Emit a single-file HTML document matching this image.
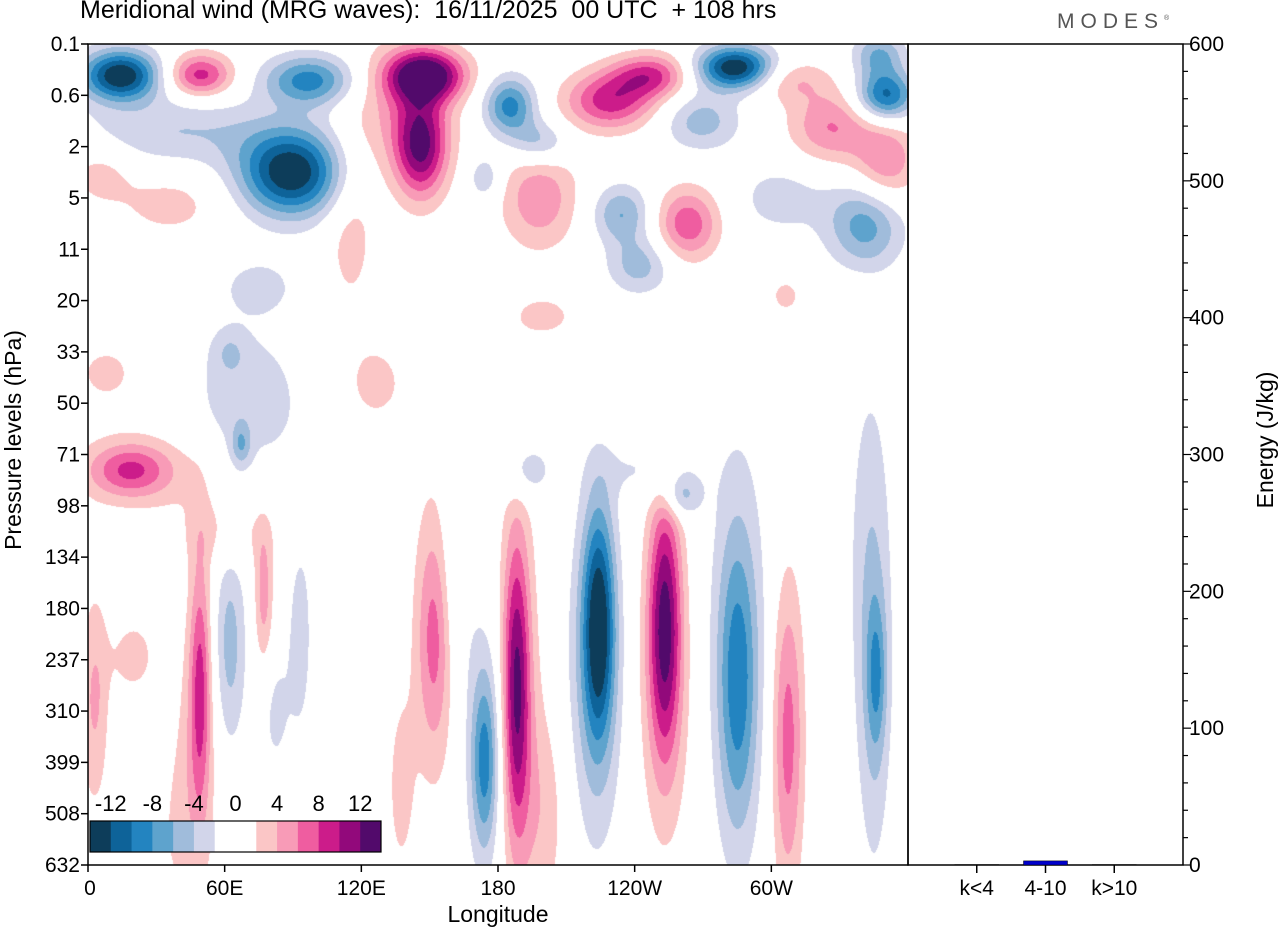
<!DOCTYPE html>
<html><head><meta charset="utf-8">
<style>
body{margin:0;width:1280px;height:930px;background:#fff;font-family:"Liberation Sans",sans-serif;overflow:hidden;position:relative}
.t{position:absolute;color:#000;white-space:nowrap}
</style></head>
<body>
<div class="t" style="left:80px;top:-4px;font-size:25px">Meridional wind (MRG waves):&nbsp; 16/11/2025&nbsp; 00 UTC&nbsp; + 108 hrs</div>
<div class="t" style="left:1057px;top:10px;font-size:21px;letter-spacing:6px;color:#555">MODES<sup style="font-size:7px;letter-spacing:0">®</sup></div>
<canvas id="field" width="820" height="821" style="position:absolute;left:88px;top:44px"></canvas>
<svg id="ax" width="1280" height="930" style="position:absolute;left:0;top:0" font-family="Liberation Sans, sans-serif"></svg>
<script>
// longitude (deg E, 0-360), level index (0=0.1hPa .. 16=632hPa), sigma lon, sigma level, amplitude (m/s)
const blobLon=[14,49,97,148,146,137,185,198,229,247,284,269,326,308,350,347,89,40,5,36,115,198,174,234,263,242,350,341,304,339,200,306,75,18,27,62,69,67,126,8,62,192,260,247,343,174,174,188,188,224,222,253,253,285,285,307,345,346,49,49,62,77,93,152,152,20,3,40,25,137,160,82,200];
const blobLvl=[0.6,0.6,0.7,0.6,2.0,1.3,1.2,1.9,1.1,0.6,0.45,1.5,1.6,0.7,1.0,0.2,2.5,1.7,2.5,3.1,3.6,3.0,2.6,3.3,3.5,4.3,2.3,3.5,3.0,5.2,5.3,4.9,4.7,8.3,8.3,9.5,7.0,7.8,6.6,6.4,6.0,8.3,8.8,8.3,10,14,13.5,12.5,12.5,11.3,12.5,11.3,12.5,12.5,11.5,13.5,13,12.3,12.5,12.5,11.7,10.8,11.5,11.5,11.5,12,12.8,14.5,13.5,14.5,10.5,13,15];
const blobSLon=[12,10,14,12,8,16,8,9,14,12,12,12,13,12,9,8,16,30,10,18,8,12,5,9,10,10,10,12,14,8,12,6,12,12,25,15,20,3,10,12,5,8,6,14,7,4,7,4,8,5,9,5,9,6,10,5,5,3,3,5,5,3,4,5,8,6,5,10,10,5,6,5,8];
const blobSLvl=[0.35,0.3,0.35,0.35,0.7,0.9,0.4,0.3,0.4,0.3,0.3,0.4,0.5,0.3,0.35,0.3,0.6,0.5,0.4,0.5,1.2,0.7,0.3,0.4,0.5,0.4,0.6,0.6,0.5,0.4,0.35,0.3,0.4,0.35,0.6,0.5,1.2,0.3,0.6,0.5,0.3,0.4,0.3,0.4,2.8,1.2,2.0,2.0,3.0,1.6,2.5,1.8,2.5,2.0,3.0,2.2,2.5,1,1.6,2.5,1.4,1,1.5,1.5,2.5,0.5,1.5,1.8,1.2,1.5,1.5,1,1.5];
const blobAmp=[-14,9,-9,14,11,4,-9,-5,9,8,-14,-5,6,4,-11,-6,-14,-4,3,2.8,3,5.5,-4,-6,7.5,-5,6,-7,-3,2.5,2.6,2.6,-2.5,6,3,2.5,-3.2,-4.5,2.8,2.5,-2.5,-4,-5,-2.5,-3,-7,-3,10,3,-12,-4,11,3,-7,-3,7,-3,-4.5,6,2.5,-5,5,-3,5,2.5,4.5,4.5,3,-2.5,2.5,-2.5,-2.5,3];
const levelLabels=["0.1","0.6","2","5","11","20","33","50","71","98","134","180","237","310","399","508","632"];
const lonTicks=[0,60,120,180,240,300];
const lonLabels=["0","60E","120E","180","120W","60W"];
const energyCats=["k<4","4-10","k>10"];
const energyVals=[0.3,3,0.3];
const energyTicks=[0,100,200,300,400,500,600];
const cbLabels=["-12","-8","-4","0","4","8","12"];
const colors=["#0d3d5a","#0e6399","#2384c0","#5ea3cd","#a0bcdb","#d2d5ea","#ffffff","#ffffff","#fbc6c6","#f89bb7","#ef5da0","#cc1c8a","#92097b","#520a6b"];

const X0=88,X1=908,Y0=44,Y1=865,E1=1183;
const xLon=l=>X0+l*(X1-X0)/360;
const yLvl=i=>Y0+i*(Y1-Y0)/16;
const yE=v=>Y1-v*(Y1-Y0)/600;
function hex(c){return [parseInt(c.slice(1,3),16),parseInt(c.slice(3,5),16),parseInt(c.slice(5,7),16)];}
const rgb=colors.map(hex);

const cv=document.getElementById('field'),ctx=cv.getContext('2d');
const W=cv.width,H=cv.height,img=ctx.createImageData(W,H);
const f=new Float32Array(W*H);
for(let b=0;b<blobLon.length;b++){
  const cx=xLon(blobLon[b])-X0,cy=yLvl(blobLvl[b])-Y0;
  const sx=blobSLon[b]*(X1-X0)/360,sy=blobSLvl[b]*(Y1-Y0)/16,a=blobAmp[b];
  const xa=Math.max(0,Math.floor(cx-4*sx)),xb=Math.min(W-1,Math.ceil(cx+4*sx));
  const ya=Math.max(0,Math.floor(cy-4*sy)),yb=Math.min(H-1,Math.ceil(cy+4*sy));
  for(let y=ya;y<=yb;y++){const dy=(y-cy)/sy;for(let x=xa;x<=xb;x++){const dx=(x-cx)/sx;f[y*W+x]+=a*Math.exp(-0.5*(dx*dx+dy*dy));}}
}
for(let i=0;i<W*H;i++){let k=Math.floor(f[i]/2)+7;if(k<0)k=0;if(k>13)k=13;const c=rgb[k];img.data[i*4]=c[0];img.data[i*4+1]=c[1];img.data[i*4+2]=c[2];img.data[i*4+3]=255;}
ctx.putImageData(img,0,0);

const svg=document.getElementById('ax'),NS='http://www.w3.org/2000/svg';
function el(t,at,txt){const e=document.createElementNS(NS,t);for(const k in at)e.setAttribute(k,at[k]);if(txt!==undefined)e.textContent=txt;svg.appendChild(e);return e;}
let e;
e=el('rect',{x:X0,y:Y0,width:X1-X0,height:Y1-Y0,fill:'none',stroke:'#000','stroke-width':1.5});


e=el('rect',{x:X1,y:Y0,width:E1-X1,height:Y1-Y0,fill:'none',stroke:'#000','stroke-width':1.5});


levelLabels.forEach((s,i)=>{
  el('line',{x1:X0-7,x2:X0,y1:yLvl(i),y2:yLvl(i),stroke:'#000','stroke-width':1.5});
  e=el('text',{x:X0-8,y:yLvl(i)+7,'font-size':21,'text-anchor':'end'},s);
  
  
});
lonTicks.forEach((l,i)=>{
  el('line',{x1:xLon(l),x2:xLon(l),y1:Y1,y2:Y1+7,stroke:'#000','stroke-width':1.5});
  e=el('text',{x:xLon(l)+(i==0?2:0),y:Y1+30,'font-size':21,'text-anchor':'middle'},lonLabels[i]);
  
  
});
for(let v=0;v<=600;v+=20){el('line',{x1:E1,x2:E1+(v%100==0?8:5),y1:yE(v),y2:yE(v),stroke:'#000','stroke-width':1.2});}
energyTicks.forEach(v=>{
  e=el('text',{x:E1+6,y:yE(v)+7,'font-size':21},String(v));
  
  
});
energyCats.forEach((c,i)=>{
  const cx=X1+(E1-X1)*(0.25+0.25*i);
  el('line',{x1:cx,x2:cx,y1:Y1,y2:Y1+8,stroke:'#000','stroke-width':1.5});
  const h=Y1-yE(energyVals[i]);
  e=el('rect',{x:cx-22,y:Y1-h,width:44,height:h,fill:'#0000cc',stroke:'#000','stroke-width':0.5});
  
  
  e=el('text',{x:cx,y:Y1+30,'font-size':21,'text-anchor':'middle'},c);
  
  
});
e=el('text',{x:498,y:922,'font-size':23,'text-anchor':'middle'},'Longitude');


e=el('text',{x:0,y:0,'font-size':23,'text-anchor':'middle',transform:'translate(21,440) rotate(-90)'},'Pressure levels (hPa)');


e=el('text',{x:0,y:0,'font-size':23,'text-anchor':'middle',transform:'translate(1273,440) rotate(-90)'},'Energy (J/kg)');


const cbX=90,cbW=291,cbY=821,cbH=31,bw=cbW/colors.length;
colors.forEach((c,i)=>{
  e=el('rect',{x:cbX+i*bw,y:cbY,width:bw+0.5,height:cbH,fill:c});
  
  
});
el('rect',{x:cbX,y:cbY,width:cbW,height:cbH,fill:'none',stroke:'#000','stroke-width':1.2});
cbLabels.forEach((s,i)=>{
  e=el('text',{x:cbX+bw*(1+2*i),y:cbY-10,'font-size':22,'text-anchor':'middle'},s);
  
  
});
</script>
</body></html>
